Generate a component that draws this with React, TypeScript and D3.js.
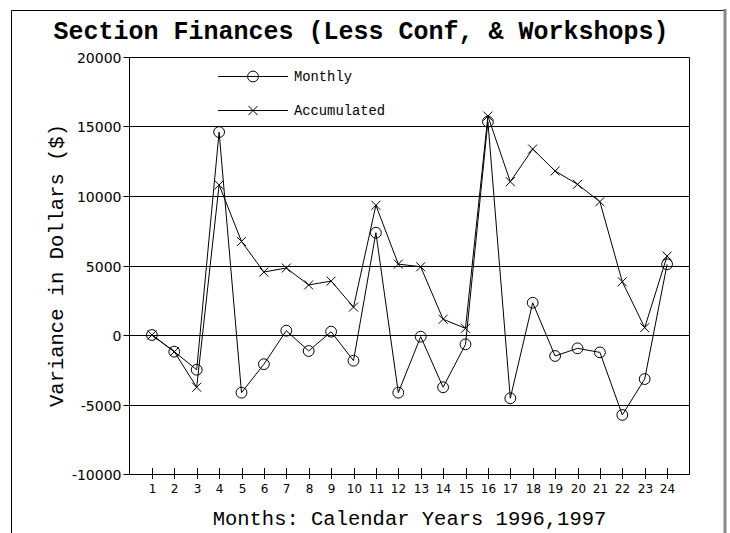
import { useEffect, useRef } from 'react';
import * as d3 from 'd3';

const MONTHS = d3.range(1, 25);
const MONTHLY = [
  0, -1200, -2500, 14600, -4150, -2100, 310, -1150, 240, -1850, 7360, -4150,
  -120, -3760, -670, 15350, -4550, 2320, -1510, -960, -1250, -5750, -3170, 5090,
];
const ACCUMULATED = [
  0, -1200, -3760, 10800, 6730, 4530, 4820, 3600, 3880, 2010, 9330, 5100,
  4910, 1130, 480, 15750, 11030, 13380, 11800, 10840, 9590, 3830, 530, 5680,
];
const Y_TICKS = [-10000, -5000, 0, 5000, 10000, 15000, 20000];

const TITLE = 'Section Finances (Less Conf, & Workshops)';
const X_TITLE = 'Months: Calendar Years 1996,1997';
const Y_TITLE = 'Variance in Dollars ($)';
const LEGEND = ['Monthly', 'Accumulated'];

const W = 730;
const H = 533;
const PLOT = { left: 129.5, right: 689.5, top: 57, bottom: 474 };
const MONO = '"Liberation Mono", "DejaVu Sans Mono", monospace';
const SANS = '"DejaVu Sans", sans-serif';

export default function App() {
  const svgRef = useRef<SVGSVGElement>(null);

  useEffect(() => {
    const svg = d3.select(svgRef.current!);
    svg.selectAll('*').remove();

    const x = d3.scaleLinear().domain([0, 25]).range([PLOT.left, PLOT.right]);
    const y = d3.scaleLinear().domain([-10000, 20000]).range([PLOT.bottom, PLOT.top]);

    // outer frame (open at the bottom)
    svg.append('path')
      .attr('d', `M11.5,${H} V10.5 H724`)
      .attr('fill', 'none')
      .attr('stroke', '#000');
    svg.append('line')
      .attr('x1', 725).attr('x2', 725).attr('y1', 9).attr('y2', H)
      .attr('stroke', '#888').attr('stroke-width', 3);

    svg.append('text')
      .attr('x', 361).attr('y', 39)
      .attr('text-anchor', 'middle')
      .attr('font-family', MONO).attr('font-weight', 'bold').attr('font-size', 25)
      .text(TITLE);

    // grid lines
    svg.append('g')
      .selectAll('line')
      .data(Y_TICKS.filter((t) => t > -10000))
      .join('line')
      .attr('x1', PLOT.left).attr('x2', PLOT.right)
      .attr('y1', (d) => Math.round(y(d)) + 0.5).attr('y2', (d) => Math.round(y(d)) + 0.5)
      .attr('stroke', '#000');

    // plot border
    svg.append('path')
      .attr('d', `M${PLOT.left},${PLOT.bottom + 0.5} H${PLOT.right} V${PLOT.top + 0.5} M${PLOT.left},${PLOT.top} V${PLOT.bottom + 0.5}`)
      .attr('fill', 'none').attr('stroke', '#000');

    // y ticks
    const yt = svg.append('g').selectAll('g').data(Y_TICKS).join('g')
      .attr('transform', (d) => `translate(0,${Math.round(y(d)) + 0.5})`);
    yt.append('line').attr('x1', PLOT.left - 6).attr('x2', PLOT.left).attr('stroke', '#000');
    yt.append('text')
      .attr('x', PLOT.left - 8).attr('dy', '0.36em')
      .attr('text-anchor', 'end')
      .attr('font-family', SANS).attr('font-size', 14)
      .text((d) => String(d));

    // x ticks
    const xt = svg.append('g').selectAll('g').data(MONTHS).join('g')
      .attr('transform', (d) => `translate(${Math.round(x(d)) + 0.5},0)`);
    xt.append('line').attr('y1', PLOT.bottom - 6).attr('y2', PLOT.bottom + 5).attr('stroke', '#000');
    xt.append('text')
      .attr('y', 493)
      .attr('text-anchor', 'middle')
      .attr('font-family', SANS).attr('font-size', 12)
      .text((d) => String(d));

    svg.append('text')
      .attr('x', (PLOT.left + PLOT.right) / 2).attr('y', 525)
      .attr('text-anchor', 'middle')
      .attr('font-family', MONO).attr('font-size', 20.5)
      .text(X_TITLE);

    svg.append('text')
      .attr('transform', `translate(63,${(PLOT.top + PLOT.bottom) / 2}) rotate(-90)`)
      .attr('text-anchor', 'middle')
      .attr('font-family', MONO).attr('font-size', 20.5)
      .text(Y_TITLE);

    const line = d3.line<number>()
      .x((_, i) => x(MONTHS[i]))
      .y((d) => y(d));

    const circleMark = (g: d3.Selection<SVGGElement, unknown, null, undefined>, cx: number, cy: number) => {
      g.append('circle').attr('cx', cx).attr('cy', cy).attr('r', 5.4)
        .attr('fill', 'none').attr('stroke', '#000');
    };
    const crossMark = (g: d3.Selection<SVGGElement, unknown, null, undefined>, cx: number, cy: number) => {
      g.append('path')
        .attr('d', `M${cx - 4.5},${cy - 4.5} L${cx + 4.5},${cy + 4.5} M${cx - 4.5},${cy + 4.5} L${cx + 4.5},${cy - 4.5}`)
        .attr('stroke', '#000').attr('fill', 'none');
    };

    const series = svg.append('g');
    series.append('path').datum(ACCUMULATED).attr('d', line)
      .attr('fill', 'none').attr('stroke', '#000');
    series.append('path').datum(MONTHLY).attr('d', line)
      .attr('fill', 'none').attr('stroke', '#000');
    ACCUMULATED.forEach((v, i) => crossMark(series, x(MONTHS[i]), y(v)));
    MONTHLY.forEach((v, i) => circleMark(series, x(MONTHS[i]), y(v)));

    // legend
    const legend = svg.append('g');
    LEGEND.forEach((label, i) => {
      const ly = 76.5 + i * 34;
      legend.append('line').attr('x1', 218).attr('x2', 288).attr('y1', ly).attr('y2', ly)
        .attr('stroke', '#000');
      if (i === 0) circleMark(legend, 253, ly);
      else crossMark(legend, 253, ly);
      legend.append('text')
        .attr('x', 294).attr('y', ly + 4.5)
        .attr('font-family', MONO).attr('font-size', 13.8)
        .text(label);
    });
  }, []);

  return (
    <svg
      ref={svgRef}
      width={W}
      height={H}
      style={{ position: 'absolute', left: 0, top: 0, background: '#fff' }}
    />
  );
}
